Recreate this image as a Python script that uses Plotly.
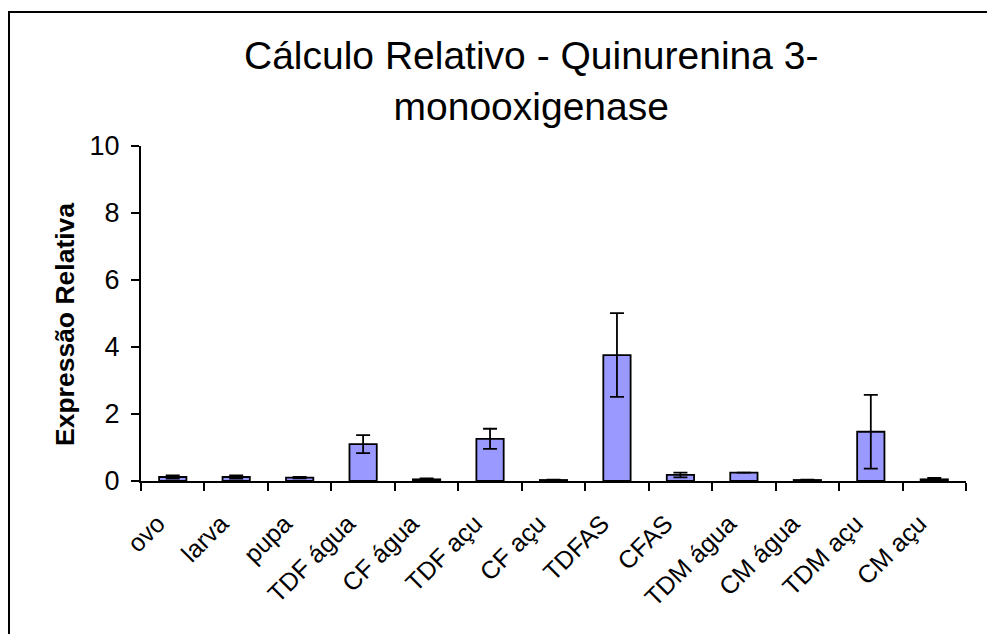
import plotly.graph_objects as go

categories = ["ovo", "larva", "pupa", "TDF água", "CF água", "TDF açu", "CF açu",
              "TDFAS", "CFAS", "TDM água", "CM água", "TDM açu", "CM açu"]
values = [0.12, 0.12, 0.10, 1.10, 0.05, 1.26, 0.03, 3.76, 0.18, 0.25, 0.03, 1.47, 0.05]
errors = [0.05, 0.05, 0.02, 0.27, 0.03, 0.30, 0.01, 1.25, 0.07, 0.0, 0.01, 1.10, 0.04]
y_ticks = [0, 2, 4, 6, 8, 10]

# page is offset by the default 8px body margin
OFF = 8
W, H = 995 - OFF, 634 - OFF
ml, mt = 141 - OFF, 146 - OFF
mr = W - (966 - OFF)
mb = H - (481 - OFF)
pw = W - ml - mr
ph = H - mt - mb

def px_x(x):
    return (x - OFF - ml) / pw

def px_y(y):
    return (H - mb - (y - OFF)) / ph

FONT = "Liberation Sans, Arial, sans-serif"

fig = go.Figure(go.Bar(
    x=categories, y=values,
    marker=dict(color="#9999FF", line=dict(color="black", width=1.8)),
    error_y=dict(type="data", array=errors, visible=True, color="black",
                 thickness=1.8, width=7),
))

fig.update_layout(
    width=W, height=H,
    margin=dict(l=ml, r=mr, t=mt, b=mb),
    paper_bgcolor="white", plot_bgcolor="white",
    bargap=0.57,
    showlegend=False,
    font=dict(family=FONT, color="black"),
    xaxis=dict(
        type="category", tickson="boundaries", ticks="outside", ticklen=8,
        tickwidth=1.5, tickcolor="black", showline=True, linecolor="black",
        linewidth=2, showgrid=False, tickangle=-45,
        tickfont=dict(size=25, family=FONT), zeroline=False,
        ticklabelstandoff=16, ticklabelshift=-15,
    ),
    yaxis=dict(
        range=[0, 10], tickvals=y_ticks, ticks="outside", ticklen=8,
        tickwidth=1.5, tickcolor="black", showline=True, linecolor="black",
        linewidth=2, showgrid=False, zeroline=False,
        tickfont=dict(size=27, family=FONT), ticklabelstandoff=6,
    ),
    annotations=[
        dict(text="Cálculo Relativo - Quinurenina 3-<br>monooxigenase",
             xref="paper", yref="paper", x=px_x(531), y=px_y(81),
             xanchor="center", yanchor="middle", showarrow=False,
             font=dict(size=39, family=FONT)),
        dict(text="<b>Expressão Relativa</b>", textangle=-90,
             xref="paper", yref="paper", x=px_x(65), y=px_y(325),
             xanchor="center", yanchor="middle", showarrow=False,
             font=dict(size=26.5, family=FONT)),
    ],
    shapes=[
        dict(type="rect", xref="paper", yref="paper",
             x0=px_x(9), x1=px_x(991), y0=px_y(660), y1=px_y(12),
             line=dict(color="black", width=2), fillcolor="rgba(0,0,0,0)",
             layer="below"),
    ],
)

fig.write_html("out.html")
